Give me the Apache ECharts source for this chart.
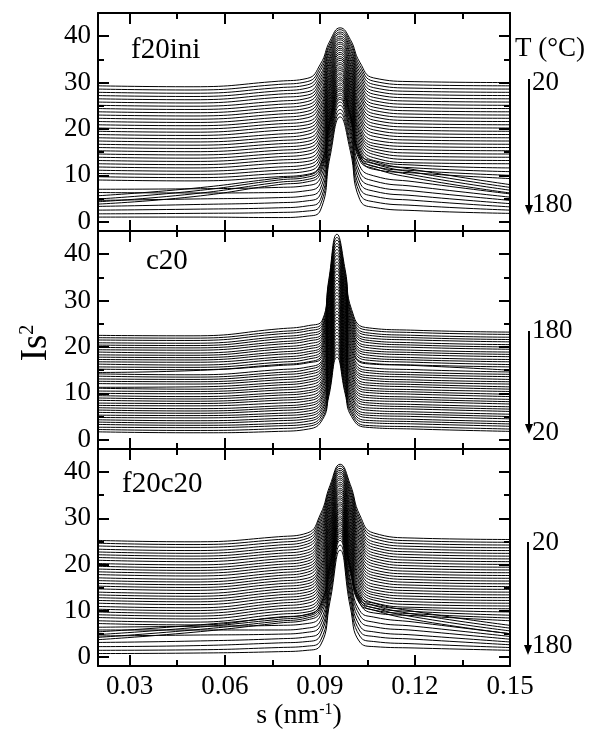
<!DOCTYPE html>
<html><head><meta charset="utf-8">
<script src="https://cdn.jsdelivr.net/npm/echarts@6/dist/echarts.min.js"></script>
<style>html,body{margin:0;padding:0;background:#fff}#c{width:592px;height:733px}</style>
</head><body><div id="c"></div><script>
// ---- axes ----
const xMajor = [0.03, 0.06, 0.09, 0.12, 0.15];
const xMinor = [0.045, 0.075, 0.105, 0.135];
const yMajor = [0, 10, 20, 30, 40];
const yMinor = [5, 15, 25, 35];
const panelNames = ['f20ini', 'c20', 'f20c20'];

// s positions (nm^-1) at which each curve was read
const sF20ini = [0.02, 0.05, 0.077, 0.086, 0.0902, 0.0932, 0.0964, 0.0996, 0.1026, 0.107, 0.12, 0.15];
const sC20    = [0.02, 0.05, 0.077, 0.0864, 0.0908, 0.0928, 0.0954, 0.098, 0.1, 0.1044, 0.12, 0.15];
const sF20c20 = [0.02, 0.05, 0.077, 0.086, 0.0902, 0.0932, 0.0964, 0.0996, 0.1026, 0.107, 0.12, 0.15];

// ---- f20ini: 41 curves (top = 20 °C ... bottom = 180 °C) ----
const f20ini_020 = [29.3,28.6,27.9,27.2,26.5,25.8,25.1,24.4,23.7,23.0,22.3,21.6,20.9,20.2,19.5,18.8,18.1,17.4,16.7,16.0,15.3,14.6,13.9,13.2,12.5,11.8,11.1,10.4,9.7,9.0,5.6,4.9,4.3,3.8,7.0,6.3,4.6,3.3,2.5,1.7,1.0];
const f20ini_050 = [29.1,28.4,27.7,27.0,26.3,25.6,24.9,24.2,23.5,22.8,22.1,21.4,20.7,20.0,19.3,18.6,17.9,17.2,16.5,15.8,15.1,14.4,13.7,13.0,12.3,11.6,10.9,10.2,9.5,8.8,7.2,6.6,6.0,5.4,7.1,6.2,4.9,3.7,2.7,1.8,1.0];
const f20ini_077 = [30.3,29.6,28.9,28.2,27.5,26.8,26.0,25.3,24.6,23.9,23.2,22.5,21.8,21.1,20.4,19.7,18.9,18.2,17.5,16.8,16.1,15.4,14.7,14.0,13.3,12.6,11.8,11.1,10.4,9.7,9.4,9.0,8.5,8.0,7.4,6.3,5.2,4.1,3.0,2.0,0.9];
const f20ini_086 = [30.9,30.2,29.5,28.8,28.0,27.3,26.6,25.9,25.2,24.5,23.8,23.1,22.4,21.6,20.9,20.2,19.5,18.8,18.0,17.3,16.6,15.9,15.2,14.5,13.7,13.0,12.3,11.6,10.9,10.2,10.0,9.6,9.1,8.6,7.8,6.7,5.6,4.5,3.4,2.3,1.2];
const f20ini_090 = [34.0,33.3,32.6,31.8,31.1,30.4,29.7,29.0,28.2,27.5,26.8,26.1,25.3,24.6,23.9,23.1,22.4,21.7,20.9,20.2,19.4,18.6,17.8,17.1,16.3,15.5,14.7,14.0,13.2,12.4,12.1,11.6,11.0,10.4,9.5,8.4,7.2,6.0,4.8,3.7,2.5];
const f20ini_093 = [39.0,38.4,37.9,37.3,36.8,36.2,35.6,35.1,34.5,34.0,33.4,32.8,32.2,31.7,31.1,30.5,29.9,29.3,28.8,28.2,27.6,27.0,26.4,25.8,25.2,24.6,24.0,23.4,22.8,22.2,21.8,21.4,20.8,20.3,19.6,18.9,18.0,17.0,16.0,15.0,14.0];
const f20ini_096 = [41.8,41.4,40.9,40.5,40.0,39.6,39.2,38.7,38.3,37.8,37.4,37.0,36.5,36.1,35.6,35.2,34.8,34.3,33.9,33.4,33.0,32.6,32.1,31.7,31.2,30.8,30.4,29.9,29.5,29.0,28.6,28.2,27.7,27.3,26.8,26.4,25.8,25.1,24.2,23.4,22.6];
const f20ini_100 = [39.3,38.7,38.2,37.6,37.1,36.5,36.0,35.4,34.9,34.3,33.8,33.2,32.7,32.1,31.5,31.0,30.4,29.8,29.3,28.7,28.1,27.5,27.0,26.4,25.8,25.3,24.7,24.1,23.6,23.0,23.1,22.6,22.1,21.6,20.8,20.1,19.3,18.4,17.3,16.3,15.3];
const f20ini_103 = [34.4,33.7,33.0,32.3,31.6,30.9,30.2,29.5,28.8,28.1,27.4,26.7,25.9,25.2,24.5,23.8,23.0,22.3,21.6,20.8,20.1,19.4,18.8,18.1,17.4,16.7,16.0,15.4,14.7,14.0,14.7,14.2,13.7,13.2,12.0,10.8,9.7,8.5,7.3,6.1,4.8];
const f20ini_107 = [31.0,30.3,29.6,28.9,28.2,27.5,26.8,26.1,25.4,24.7,24.0,23.3,22.6,21.9,21.2,20.5,19.8,19.1,18.4,17.6,16.9,16.3,15.7,15.1,14.5,13.8,13.2,12.6,11.9,11.3,13.0,12.5,12.0,11.5,9.9,8.8,7.7,6.6,5.5,4.3,3.1];
const f20ini_120 = [30.2,29.5,28.8,28.1,27.4,26.7,26.0,25.3,24.6,23.9,23.2,22.5,21.8,21.1,20.4,19.7,19.0,18.3,17.6,16.9,16.2,15.5,14.8,14.1,13.4,12.7,12.2,11.6,11.0,10.5,11.2,10.6,10.0,9.4,8.6,7.6,6.6,5.6,4.6,3.5,2.4];
const f20ini_150 = [30.0,29.3,28.6,27.9,27.2,26.5,25.8,25.1,24.4,23.7,23.0,22.3,21.6,20.9,20.2,19.5,18.8,18.1,17.4,16.7,16.0,15.3,14.6,13.9,13.2,12.5,11.6,10.8,10.0,9.3,8.0,7.4,6.8,6.2,6.0,5.3,4.6,3.9,3.2,2.5,1.8];

// ---- c20: 41 curves (top = 180 °C ... bottom = 20 °C) ----
const c20_020 = [22.5,22.0,21.5,20.9,20.4,19.9,19.4,18.9,18.3,17.8,17.3,16.8,16.3,15.7,15.2,14.5,14.2,13.7,13.1,12.6,12.1,11.3,11.1,10.5,10.0,9.5,9.0,8.5,7.9,7.4,6.9,6.4,5.9,5.3,4.8,4.3,3.8,3.3,2.7,2.2,1.7];
const c20_050 = [22.4,21.9,21.4,20.8,20.3,19.8,19.3,18.7,18.2,17.7,17.2,16.7,16.1,15.6,15.1,14.9,14.0,13.5,13.0,12.5,12.0,11.4,10.9,10.4,9.9,9.3,8.8,8.3,7.8,7.3,6.7,6.2,5.7,5.2,4.7,4.1,3.6,3.1,2.6,2.0,1.5];
const c20_077 = [23.9,23.3,22.8,22.2,21.7,21.1,20.6,20.0,19.5,18.9,18.4,17.8,17.3,16.7,16.2,16.0,15.1,14.5,14.0,13.4,12.9,12.3,11.8,11.2,10.7,10.1,9.6,9.0,8.5,7.9,7.3,6.8,6.3,5.7,5.2,4.6,4.1,3.5,3.0,2.4,1.8];
const c20_086 = [24.6,24.0,23.5,22.9,22.4,21.8,21.3,20.7,20.1,19.6,19.0,18.5,17.9,17.4,16.8,16.6,15.7,15.2,14.6,14.1,13.5,12.9,12.4,11.8,11.2,10.6,10.1,9.5,8.9,8.4,7.8,7.3,6.7,6.2,5.6,5.1,4.5,4.0,3.4,2.9,2.3];
const c20_091 = [25.8,25.3,24.7,24.2,23.7,23.1,22.6,22.1,21.6,21.0,20.5,20.0,19.5,18.9,18.4,17.9,17.3,16.8,16.3,15.7,15.2,14.7,14.1,13.6,13.0,12.5,12.0,11.4,10.9,10.3,9.7,9.2,8.7,8.1,7.6,7.0,6.5,5.9,5.4,4.8,4.3];
const c20_093 = [34.4,33.8,33.1,32.5,31.9,31.3,30.6,30.0,29.4,28.7,28.1,27.5,26.9,26.2,25.6,25.0,24.3,23.7,23.1,22.4,21.8,21.2,20.6,19.9,19.3,18.7,18.0,17.4,16.8,16.1,15.5,14.9,14.3,13.6,13.0,12.4,11.8,11.1,10.5,9.9,9.3];
const c20_095 = [44.3,43.6,43.0,42.3,41.7,41.0,40.3,39.7,39.0,38.3,37.7,37.0,36.4,35.7,35.0,34.4,33.7,33.0,32.4,31.7,31.1,30.4,29.7,29.1,28.4,27.7,27.1,26.4,25.8,25.1,24.4,23.8,23.1,22.5,21.8,21.1,20.5,19.8,19.2,18.5,17.8];
const c20_098 = [36.6,35.9,35.2,34.6,33.9,33.2,32.5,31.8,31.2,30.5,29.8,29.1,28.4,27.8,27.1,26.4,25.7,25.0,24.4,23.7,23.0,22.3,21.7,21.0,20.4,19.7,19.0,18.4,17.7,17.1,16.4,15.7,15.1,14.4,13.8,13.1,12.5,11.8,11.2,10.5,9.9];
const c20_100 = [28.1,27.5,26.9,26.4,25.8,25.2,24.6,24.0,23.5,22.9,22.3,21.7,21.1,20.5,19.9,19.3,18.8,18.2,17.6,17.0,16.4,15.8,15.3,14.7,14.1,13.6,13.0,12.4,11.8,11.3,10.7,10.1,9.5,9.0,8.4,7.8,7.3,6.7,6.1,5.6,5.0];
const c20_104 = [24.2,23.7,23.1,22.6,22.0,21.5,21.0,20.4,19.9,19.3,18.8,18.3,17.7,17.2,16.6,16.4,15.6,15.0,14.5,13.9,13.4,12.9,12.3,11.8,11.2,10.7,10.2,9.6,9.1,8.5,8.0,7.5,6.9,6.4,5.8,5.3,4.8,4.2,3.7,3.1,2.7];
const c20_120 = [23.6,23.1,22.5,22.0,21.5,20.9,20.4,19.9,19.3,18.8,18.3,17.7,17.2,16.7,16.1,16.0,15.1,14.5,14.0,13.5,12.9,12.4,11.9,11.4,10.8,10.3,9.8,9.2,8.7,8.2,7.6,7.1,6.6,6.0,5.5,5.0,4.4,3.9,3.4,2.8,2.3];
const c20_150 = [23.2,22.7,22.1,21.6,21.1,20.5,20.0,19.5,18.9,18.4,17.9,17.3,16.8,16.2,15.7,15.0,14.6,14.1,13.6,13.0,12.5,12.0,11.4,10.9,10.4,9.8,9.3,8.7,8.2,7.7,7.1,6.6,6.1,5.5,5.0,4.5,3.9,3.4,2.9,2.3,1.8];

// ---- f20c20: 41 curves (top = 20 °C ... bottom = 180 °C) ----
const f20c20_020 = [25.2,24.6,24.0,23.3,22.7,22.1,21.5,20.9,20.2,19.6,19.0,18.4,17.8,17.1,16.5,15.9,15.3,14.7,14.0,13.4,12.8,12.2,11.6,10.9,10.3,9.7,9.1,8.5,7.8,7.2,5.4,4.8,4.2,3.7,6.4,5.8,4.5,3.1,2.2,1.4,0.7];
const f20c20_050 = [24.9,24.3,23.7,23.0,22.4,21.8,21.2,20.6,19.9,19.3,18.7,18.1,17.5,16.8,16.2,15.6,15.0,14.4,13.7,13.1,12.5,11.9,11.3,10.6,10.0,9.4,8.8,8.2,7.5,6.9,6.8,6.3,5.8,5.3,6.6,5.8,4.7,3.4,2.4,1.5,0.8];
const f20c20_077 = [26.0,25.4,24.8,24.2,23.6,23.0,22.4,21.8,21.2,20.6,20.0,19.4,18.8,18.2,17.6,17.0,16.4,15.8,15.2,14.6,14.0,13.4,12.8,12.2,11.6,11.0,10.4,9.8,9.2,8.6,8.5,8.1,7.7,7.3,6.8,5.8,4.9,3.9,3.0,2.0,1.1];
const f20c20_086 = [26.8,26.2,25.6,25.0,24.4,23.8,23.1,22.5,21.9,21.3,20.7,20.1,19.5,18.9,18.3,17.7,17.0,16.4,15.8,15.2,14.6,14.0,13.4,12.8,12.2,11.6,10.9,10.3,9.7,9.1,9.2,8.8,8.4,8.0,7.2,6.2,5.3,4.3,3.3,2.3,1.4];
const f20c20_090 = [30.9,30.3,29.6,29.0,28.3,27.7,27.0,26.4,25.7,25.1,24.4,23.7,23.0,22.4,21.7,21.0,20.3,19.6,19.0,18.3,17.6,16.9,16.2,15.5,14.8,14.1,13.4,12.7,12.0,11.3,11.3,10.8,10.3,9.7,8.9,7.8,6.8,5.7,4.7,3.5,2.5];
const f20c20_093 = [37.1,36.5,36.0,35.4,34.8,34.2,33.7,33.1,32.5,32.0,31.4,30.8,30.2,29.6,29.0,28.5,27.9,27.3,26.7,26.1,25.5,24.9,24.3,23.7,23.1,22.4,21.8,21.2,20.6,20.0,19.8,19.3,18.7,18.2,17.5,16.7,15.9,15.1,14.3,13.1,12.0];
const f20c20_096 = [41.7,41.3,40.8,40.4,40.0,39.6,39.1,38.7,38.3,37.8,37.4,37.0,36.5,36.1,35.7,35.3,34.8,34.4,34.0,33.5,33.1,32.7,32.2,31.8,31.4,31.0,30.5,30.1,29.7,29.2,28.8,28.4,27.9,27.5,27.1,26.7,26.2,25.7,25.2,24.2,23.1];
const f20c20_100 = [37.3,36.7,36.1,35.5,34.9,34.3,33.6,33.0,32.4,31.8,31.2,30.6,29.9,29.3,28.6,28.0,27.4,26.7,26.1,25.4,24.8,24.2,23.5,22.9,22.3,21.6,21.0,20.4,19.7,19.1,19.7,19.1,18.6,18.0,16.9,16.1,15.1,14.1,13.2,12.0,10.8];
const f20c20_103 = [30.7,30.0,29.4,28.7,28.1,27.4,26.7,26.1,25.4,24.8,24.1,23.4,22.7,22.1,21.4,20.7,20.0,19.3,18.7,18.0,17.3,16.7,16.0,15.4,14.7,14.1,13.5,12.8,12.2,11.6,13.0,12.5,12.0,11.5,10.0,9.0,7.9,6.7,5.6,4.5,3.2];
const f20c20_107 = [26.8,26.2,25.6,24.9,24.3,23.7,23.1,22.5,21.9,21.3,20.7,20.1,19.5,18.8,18.2,17.6,17.0,16.4,15.7,15.1,14.5,13.9,13.4,12.8,12.3,11.7,11.2,10.6,10.1,9.5,11.6,11.1,10.6,10.1,8.6,7.5,6.5,5.4,4.4,3.3,2.2];
const f20c20_120 = [25.7,25.1,24.5,23.9,23.3,22.7,22.1,21.5,20.9,20.3,19.7,19.1,18.5,17.9,17.3,16.7,16.1,15.5,14.9,14.3,13.7,13.1,12.5,11.9,11.3,10.7,10.3,9.8,9.3,8.9,9.8,9.2,8.6,8.0,7.5,6.6,5.7,4.7,3.8,2.8,1.9];
const f20c20_150 = [25.4,24.8,24.2,23.6,23.0,22.4,21.8,21.2,20.6,20.0,19.4,18.8,18.2,17.6,17.0,16.4,15.8,15.2,14.6,14.0,13.4,12.8,12.2,11.6,11.0,10.4,9.7,9.0,8.4,7.8,6.8,6.2,5.6,5.0,5.0,4.4,3.8,3.2,2.6,2.0,1.4];

const panels = [
  {s: sF20ini, cols: [f20ini_020,f20ini_050,f20ini_077,f20ini_086,f20ini_090,f20ini_093,f20ini_096,f20ini_100,f20ini_103,f20ini_107,f20ini_120,f20ini_150]},
  {s: sC20,    cols: [c20_020,c20_050,c20_077,c20_086,c20_091,c20_093,c20_095,c20_098,c20_100,c20_104,c20_120,c20_150]},
  {s: sF20c20, cols: [f20c20_020,f20c20_050,f20c20_077,f20c20_086,f20c20_090,f20c20_093,f20c20_096,f20c20_100,f20c20_103,f20c20_107,f20c20_120,f20c20_150]}
];

const FONT = "'Liberation Serif','Times New Roman',serif";
const grids = [
  {left: 98, top: 13, width: 412, height: 218},
  {left: 98, top: 231, width: 412, height: 218},
  {left: 98, top: 449, width: 412, height: 217}
];

const xAxes = [], yAxes = [], series = [];
let bad = [];
grids.forEach((g, gi) => {
  const xi = xAxes.length, yi = yAxes.length;
  const lastPanel = gi === grids.length - 1;
  ['bottom', 'top'].forEach(pos => {
    xAxes.push({type:'value', gridIndex: gi, position: pos, min: 0.02, max: 0.15,
      axisLine:{show:true, onZero:false, lineStyle:{color:'#000', width:2}},
      axisTick:{show:true, inside:true, length:11, customValues:xMajor, lineStyle:{color:'#000', width:2}},
      axisLabel:{show: pos==='bottom' && lastPanel, customValues:xMajor, margin:7,
        formatter: v => Number(v).toFixed(2), color:'#000', fontSize:27, fontFamily:FONT},
      splitLine:{show:false}});
    xAxes.push({type:'value', gridIndex: gi, position: pos, min: 0.02, max: 0.15,
      axisLine:{show:false, onZero:false},
      axisTick:{show:true, inside:true, length:6, customValues:xMinor, lineStyle:{color:'#000', width:2}},
      axisLabel:{show:false}, splitLine:{show:false}});
  });
  ['left', 'right'].forEach(pos => {
    yAxes.push({type:'value', gridIndex: gi, position: pos, min: -2, max: 45,
      axisLine:{show:true, onZero:false, lineStyle:{color:'#000', width:2}},
      axisTick:{show:true, inside:true, length:11, customValues:yMajor, lineStyle:{color:'#000', width:2}},
      axisLabel:{show: pos==='left', customValues:yMajor, margin:7, color:'#000', fontSize:27, fontFamily:FONT},
      splitLine:{show:false}});
    yAxes.push({type:'value', gridIndex: gi, position: pos, min: -2, max: 45,
      axisLine:{show:false, onZero:false},
      axisTick:{show:true, inside:true, length:6, customValues:yMinor, lineStyle:{color:'#000', width:2}},
      axisLabel:{show:false}, splitLine:{show:false}});
  });
  const p = panels[gi];
  p.cols.forEach((c, j) => { if (c.length !== 41) bad.push(panelNames[gi] + ':' + j + '=' + c.length); });
  for (let k = 0; k < 41; k++) {
    series.push({type:'line', xAxisIndex: xi, yAxisIndex: yi, smooth: 0.5, showSymbol:false, symbol:'none',
      silent:true, clip:true, animation:false,
      lineStyle:{color:'#000', width:1},
      data: p.s.map((s, j) => [s, p.cols[j][k]])});
  }
});

function txt(x, y, text, size) {
  return {type:'text', x, y, silent:true, style:{text, fill:'#000', font: size + 'px ' + FONT,
    textAlign:'left', textVerticalAlign:'middle'}};
}
function arrow(x, y1, y2) {
  return [
    {type:'line', silent:true, shape:{x1:x, y1:y1, x2:x, y2:y2 - 8}, style:{stroke:'#000', lineWidth:2}},
    {type:'polygon', silent:true, shape:{points:[[x-4, y2-10],[x+4, y2-10],[x, y2]]}, style:{fill:'#000'}}
  ];
}

const graphic = [
  txt(131, 50, 'f20ini', 29),
  txt(146, 261, 'c20', 29),
  txt(122, 484, 'f20c20', 29),
  txt(515, 49, 'T (°C)', 27),
  txt(532, 83, '20', 27),
  txt(532, 205, '180', 27),
  ...arrow(529, 79, 215),
  txt(532, 331, '180', 27),
  txt(532, 433, '20', 27),
  ...arrow(529, 331, 434),
  txt(532, 543, '20', 27),
  txt(532, 646, '180', 27),
  ...arrow(528, 542, 655),
  {type:'text', x:36, y:343, rotation: Math.PI/2, silent:true,
    style:{text:'{a|Is}{b|2}', textAlign:'center', textVerticalAlign:'middle',
      rich:{a:{fontSize:37, fontFamily:FONT, color:'#000'}, b:{fontSize:20, fontFamily:FONT, color:'#000', verticalAlign:'top'}}}},
  {type:'text', x:299, y:716, silent:true,
    style:{text:'{a|s (nm}{b|-1}{a|)}', textAlign:'center', textVerticalAlign:'middle',
      rich:{a:{fontSize:28, fontFamily:FONT, color:'#000'}, b:{fontSize:16, fontFamily:FONT, color:'#000', verticalAlign:'top'}}}}
];
if (bad.length) graphic.push({type:'text', x:200, y:20, style:{text:'LEN ' + bad.join(' '), fill:'red', font:'12px sans-serif'}});

const chart = echarts.init(document.getElementById('c'), null, {renderer:'canvas'});
chart.setOption({animation:false, backgroundColor:'#fff', grid: grids, xAxis: xAxes, yAxis: yAxes, series, graphic});
</script></body></html>
